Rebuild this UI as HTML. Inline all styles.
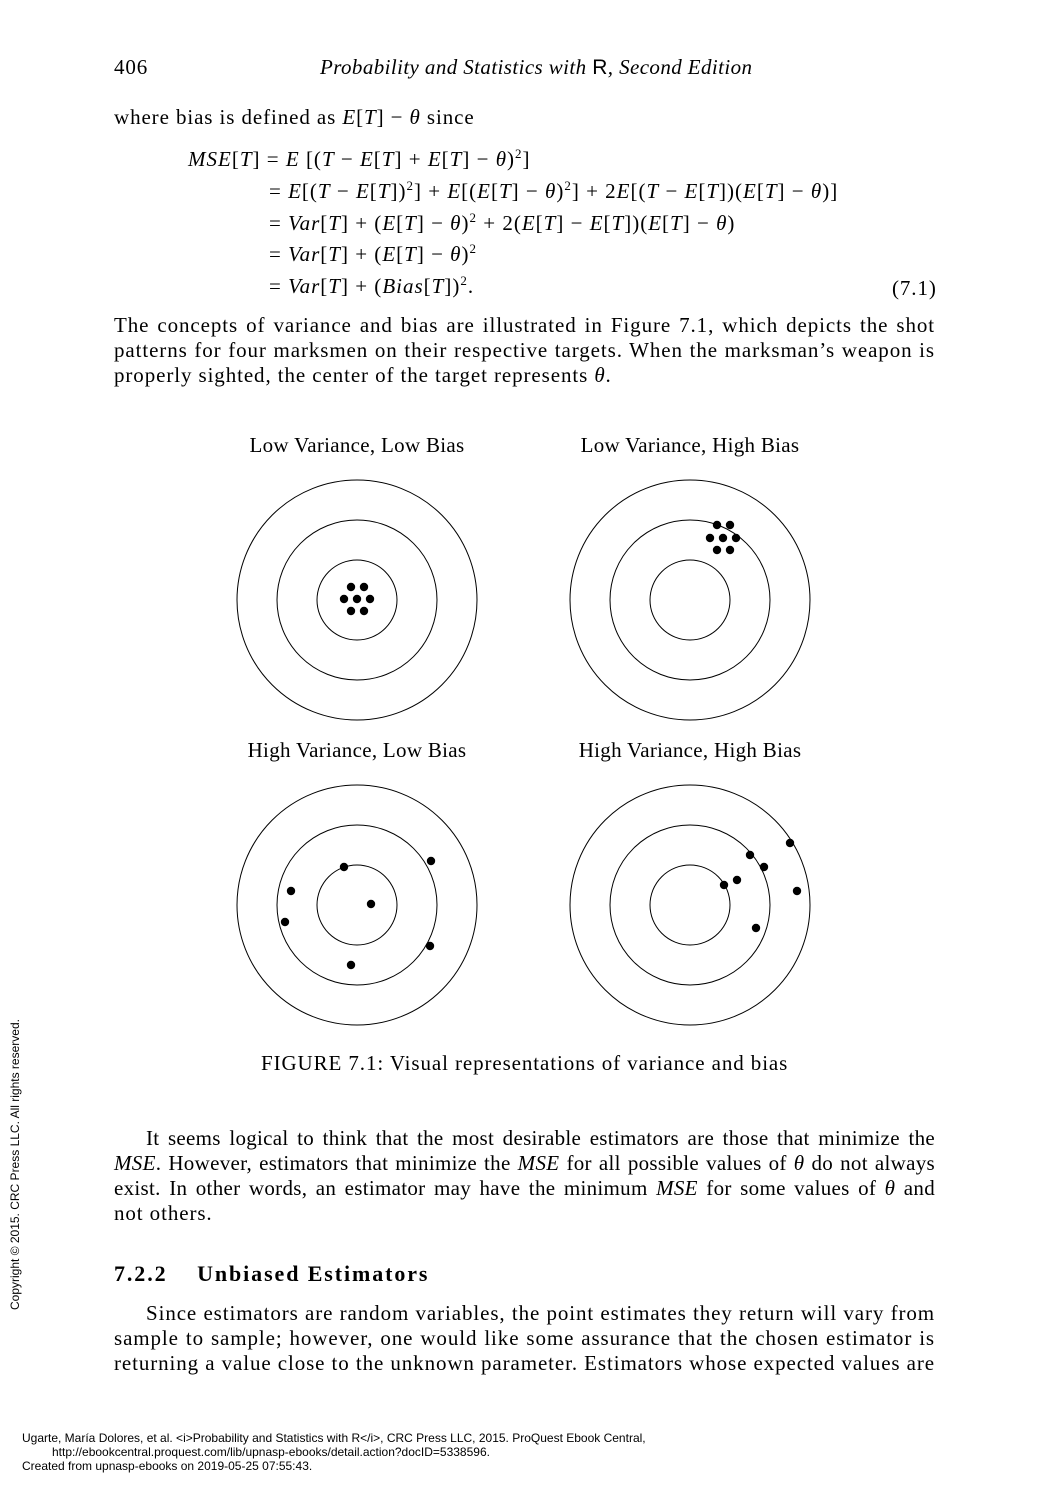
<!DOCTYPE html>
<html><head><meta charset="utf-8">
<style>
body{margin:0;background:#fff;}
#page{position:relative;width:1050px;height:1500px;font-family:"Liberation Serif",serif;color:#000;font-size:21px;letter-spacing:0.9px;}
.t{position:absolute;white-space:nowrap;}
.eq{letter-spacing:1.0px;}
i{font-style:italic;}
sup{font-size:13px;}
.j{position:absolute;left:114px;width:821px;text-align:justify;text-align-last:justify;white-space:nowrap;}
.tight{letter-spacing:0.3px;}
.small{font-family:"Liberation Sans",sans-serif;font-size:12px;letter-spacing:0;position:absolute;white-space:nowrap;}
</style></head><body>
<div id="page">
<div class="t" style="left:114px;top:55px">406</div>
<div class="t" style="left:320px;top:55px;font-style:italic;letter-spacing:0.4px">Probability and Statistics with <span style="font-family:'Liberation Sans';font-style:normal">R</span>, Second Edition</div>
<div class="t" style="left:114px;top:105px">where bias is defined as <i>E</i>[<i>T</i>] − <i>θ</i> since</div>
<div class="t eq" style="left:188px;top:146px"><i>MSE</i>[<i>T</i>] = <i>E</i> [(<i>T</i> − <i>E</i>[<i>T</i>] + <i>E</i>[<i>T</i>] − <i>θ</i>)<sup>2</sup>]</div>
<div class="t eq" style="left:269px;top:178px">= <i>E</i>[(<i>T</i> − <i>E</i>[<i>T</i>])<sup>2</sup>] + <i>E</i>[(<i>E</i>[<i>T</i>] − <i>θ</i>)<sup>2</sup>] + 2<i>E</i>[(<i>T</i> − <i>E</i>[<i>T</i>])(<i>E</i>[<i>T</i>] − <i>θ</i>)]</div>
<div class="t eq" style="left:269px;top:210px">= <i>Var</i>[<i>T</i>] + (<i>E</i>[<i>T</i>] − <i>θ</i>)<sup>2</sup> + 2(<i>E</i>[<i>T</i>] − <i>E</i>[<i>T</i>])(<i>E</i>[<i>T</i>] − <i>θ</i>)</div>
<div class="t eq" style="left:269px;top:241px">= <i>Var</i>[<i>T</i>] + (<i>E</i>[<i>T</i>] − <i>θ</i>)<sup>2</sup></div>
<div class="t eq" style="left:269px;top:273px">= <i>Var</i>[<i>T</i>] + (<i>Bias</i>[<i>T</i>])<sup>2</sup>.</div>
<div class="t" style="left:892px;top:276px">(7.1)</div>
<div class="j" style="top:313px">The concepts of variance and bias are illustrated in Figure 7.1, which depicts the shot</div>
<div class="j" style="top:338px">patterns for four marksmen on their respective targets. When the marksman’s weapon is</div>
<div class="t" style="left:114px;top:363px">properly sighted, the center of the target represents <i>θ</i>.</div>

<svg id="fig" width="1050" height="1500" style="position:absolute;left:0;top:0"></svg>

<div class="t" style="left:261px;top:1051px">FIGURE 7.1: Visual representations of variance and bias</div>
<div class="j tight" style="top:1126px;left:146px;width:789px">It seems logical to think that the most desirable estimators are those that minimize the</div>
<div class="j tight" style="top:1151px"><i>MSE</i>. However, estimators that minimize the <i>MSE</i> for all possible values of <i>θ</i> do not always</div>
<div class="j tight" style="top:1176px">exist. In other words, an estimator may have the minimum <i>MSE</i> for some values of <i>θ</i> and</div>
<div class="t" style="left:114px;top:1201px">not others.</div>
<div class="t" style="left:114px;top:1261px;font-weight:bold;font-size:22px;letter-spacing:1.9px">7.2.2&nbsp;&nbsp;&nbsp;&nbsp;Unbiased Estimators</div>
<div class="j" style="top:1301px;left:146px;width:789px">Since estimators are random variables, the point estimates they return will vary from</div>
<div class="j" style="top:1326px">sample to sample; however, one would like some assurance that the chosen estimator is</div>
<div class="j" style="top:1351px">returning a value close to the unknown parameter. Estimators whose expected values are</div>

<div class="small" style="left:8px;top:1310px;transform:rotate(-90deg);transform-origin:0 0">Copyright © 2015. CRC Press LLC. All rights reserved.</div>
<div class="small" style="left:22px;top:1431px">Ugarte, María Dolores, et al. &lt;i&gt;Probability and Statistics with R&lt;/i&gt;, CRC Press LLC, 2015. ProQuest Ebook Central,</div>
<div class="small" style="left:52px;top:1445px">http://ebookcentral.proquest.com/lib/upnasp-ebooks/detail.action?docID=5338596.</div>
<div class="small" style="left:22px;top:1459px">Created from upnasp-ebooks on 2019-05-25 07:55:43.</div>
</div>
<script>
// shot offsets (dx, dy) from target centre
const panelTitles = ["Low Variance, Low Bias","Low Variance, High Bias","High Variance, Low Bias","High Variance, High Bias"];
const shotsLVLB_x = [-6,7,-13,0,13,-6,7];
const shotsLVLB_y = [-13,-13,-1,-1,-1,11,11];
const shotsLVHB_x = [27,40,20,33,46,27,40];
const shotsLVHB_y = [-75,-75,-62,-62,-62,-50,-50];
const shotsHVLB_x = [-13,74,-66,14,-72,73,-6];
const shotsHVLB_y = [-38,-44,-14,-1,17,41,60];
const shotsHVHB_x = [100,60,74,47,34,107,66];
const shotsHVHB_y = [-62,-50,-38,-25,-20,-14,23];
const ringRadii = [120,80,40];

const svg = document.getElementById('fig');
const NS = 'http://www.w3.org/2000/svg';
const centres = [[357,600],[690,600],[357,905],[690,905]];
const shotSets = [[shotsLVLB_x,shotsLVLB_y],[shotsLVHB_x,shotsLVHB_y],[shotsHVLB_x,shotsHVLB_y],[shotsHVHB_x,shotsHVHB_y]];
const names = ['low-var-low-bias','low-var-high-bias','high-var-low-bias','high-var-high-bias'];
centres.forEach((c,k)=>{
  const g = document.createElementNS(NS,'g');
  
  
  svg.appendChild(g);
  const t = document.createElementNS(NS,'text');
  
  
  t.setAttribute('x', c[0]); t.setAttribute('y', c[1]-148);
  t.setAttribute('text-anchor','middle');
  t.setAttribute('font-family','Liberation Serif, serif'); t.setAttribute('font-size','21');
  t.setAttribute('letter-spacing','0.3');
  t.textContent = panelTitles[k];
  g.appendChild(t);
  ringRadii.forEach(r=>{
    const ci = document.createElementNS(NS,'circle');
    
    
    ci.setAttribute('cx',c[0]); ci.setAttribute('cy',c[1]); ci.setAttribute('r',r);
    ci.setAttribute('fill','none'); ci.setAttribute('stroke','#000'); ci.setAttribute('stroke-width','1');
    g.appendChild(ci);
  });
  const [xs,ys] = shotSets[k];
  xs.forEach((dx,i)=>{
    const d = document.createElementNS(NS,'circle');
    
    
    d.setAttribute('cx',c[0]+dx); d.setAttribute('cy',c[1]+ys[i]); d.setAttribute('r',4.2);
    g.appendChild(d);
  });
});
</script>
</body></html>
